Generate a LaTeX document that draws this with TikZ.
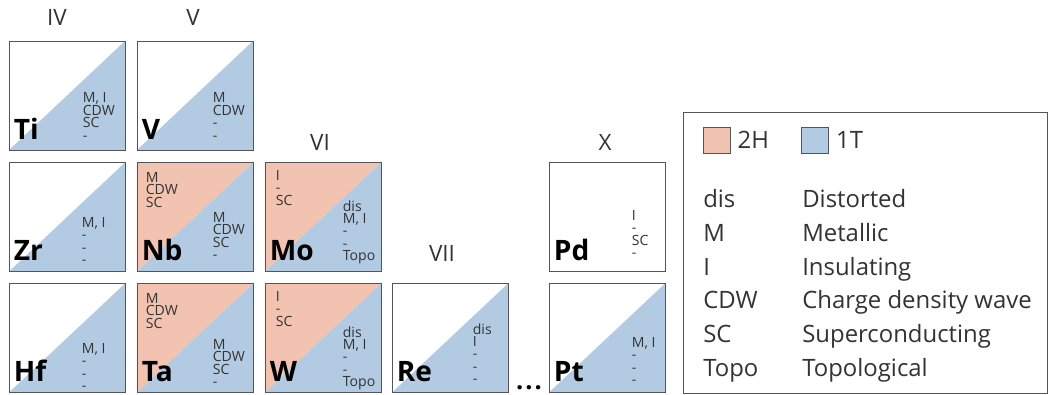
\documentclass[tikz,border=0pt]{standalone}
\usepackage{fontspec}
\setmainfont{Open Sans}
\usetikzlibrary{positioning,calc}
\definecolor{phaseBlue}{HTML}{B3CBE2}
\definecolor{phasePink}{HTML}{F2C3B0}
\definecolor{edgeGray}{HTML}{555555}
\definecolor{propGray}{HTML}{333333}

\begin{document}
\begin{tikzpicture}[
    x=0.025cm, y=0.025cm,
    cell/.style={draw=edgeGray, line width=0.6pt, minimum width=2.9cm, minimum height=2.725cm, inner sep=0pt},
    half/.style={path picture={
      \fill[phaseBlue] (path picture bounding box.south west) -- (path picture bounding box.south east) -- (path picture bounding box.north east) -- cycle;}},
    split/.style={path picture={
      \fill[phasePink] (path picture bounding box.south west) -- (path picture bounding box.north west) -- (path picture bounding box.north east) -- cycle;
      \fill[phaseBlue] (path picture bounding box.south west) -- (path picture bounding box.south east) -- (path picture bounding box.north east) -- cycle;}},
    elem/.style={font=\fontsize{20}{20}\selectfont\bfseries, inner sep=0pt, anchor=base west},
    prop/.style={font=\fontsize{10}{8.8}\selectfont, text=propGray, align=left, inner sep=0pt, anchor=north west},
    grp/.style={font=\fontsize{16}{16}\selectfont, text=propGray},
    key/.style={font=\fontsize{17}{17}\selectfont, text=propGray, inner sep=0pt},
    swatch/.style={draw=edgeGray, line width=0.6pt, minimum width=0.675cm, minimum height=0.65cm, inner sep=0pt}
  ]
    \useasboundingbox (0,0) rectangle (1049,394);

    % group numbers
    \node[grp] (gIV) at (57,377) {IV};
    \node[grp] (gV) at (193,377) {V};
    \node[grp] (gVI) at (320,252) {VI};
    \node[grp] (gVII) at (442,141) {VII};
    \node[grp] (gX) at (605,252) {X};

    % cells
    \node[cell, half] (ti) at (67,298.5) {};
    \node[cell, half] (v) at (195,298.5) {};
    \node[cell, half] (zr) at (67,177) {};
    \node[cell, split] (nb) at (195,177) {};
    \node[cell, split] (mo) at (323,177) {};
    \node[cell] (pd) at (607,177) {};
    \node[cell, half] (hf) at (67,56) {};
    \node[cell, split] (ta) at (195,56) {};
    \node[cell, split] (w) at (323,56) {};
    \node[cell, half] (re) at (450,56) {};
    \node[cell, half] (pt) at (607,56) {};

    % symbols
    \foreach \c/\s in {ti/Ti, v/V, zr/Zr, nb/Nb, mo/Mo, pd/Pd, hf/Hf, ta/Ta, w/W, re/Re, pt/Pt}
      \node[elem] (\c-sym) at ([shift={(5,11)}]\c.south west) {\s};

    % properties
    \node[prop] (ti-1t) at ([shift={(74,-52)}]ti.north west) {M, I\\CDW\\SC\\-};
    \node[prop] (v-1t) at ([shift={(76,-52)}]v.north west) {M\\CDW\\-\\-};
    \node[prop] (zr-1t) at ([shift={(73,-55)}]zr.north west) {M, I\\-\\-\\-};
    \node[prop] (hf-1t) at ([shift={(73,-60)}]hf.north west) {M, I\\-\\-\\-};
    \node[prop] (nb-2h) at ([shift={(9,-10)}]nb.north west) {M\\CDW\\SC};
    \node[prop] (nb-1t) at ([shift={(76,-50)}]nb.north west) {M\\CDW\\SC\\-};
    \node[prop] (ta-2h) at ([shift={(9,-10)}]ta.north west) {M\\CDW\\SC};
    \node[prop] (ta-1t) at ([shift={(76,-56)}]ta.north west) {M\\CDW\\SC\\-};
    \node[prop] (mo-2h) at ([shift={(11,-8)}]mo.north west) {I\\-\\SC};
    \node[prop] (mo-1t) at ([shift={(78,-38)}]mo.north west) {dis\\M, I\\-\\-\\Topo};
    \node[prop] (w-2h) at ([shift={(11,-8)}]w.north west) {I\\-\\SC};
    \node[prop] (w-1t) at ([shift={(78,-43)}]w.north west) {dis\\M, I\\-\\-\\Topo};
    \node[prop] (re-1t) at ([shift={(81,-40)}]re.north west) {dis\\I\\-\\-\\-};
    \node[prop] (pd-1t) at ([shift={(83,-48)}]pd.north west) {I\\-\\SC\\-};
    \node[prop] (pt-1t) at ([shift={(83,-54)}]pt.north west) {M, I\\-\\-\\-};

    \node[font=\fontsize{18}{18}\selectfont\bfseries, inner sep=0pt, anchor=base] (dots) at (529,4.5) {.\hspace{1.5pt}.\hspace{1.5pt}.};

    % legend
    \node[draw=edgeGray, line width=0.6pt, minimum width=9.1cm, minimum height=7.025cm, inner sep=0pt] (legend) at (865,141.5) {};
    \node[swatch, fill=phasePink] (sw2h) at (716.5,254) {};
    \node[key, right=0.175cm of sw2h] (l2h) {2H};
    \node[swatch, fill=phaseBlue] (sw1t) at (815,254) {};
    \node[key, right=0.175cm of sw1t] (l1t) {1T};
    \foreach \ab/\full [count=\i] in {dis/Distorted, M/Metallic, I/Insulating, CDW/Charge density wave, SC/Superconducting, Topo/Topological}{
      \node[key, anchor=base west] (ab\i) at (703,219.6-33.6*\i) {\ab};
      \node[key, anchor=base west] (fu\i) at (802,219.6-33.6*\i) {\full};
    }
  \end{tikzpicture}
\end{document}
